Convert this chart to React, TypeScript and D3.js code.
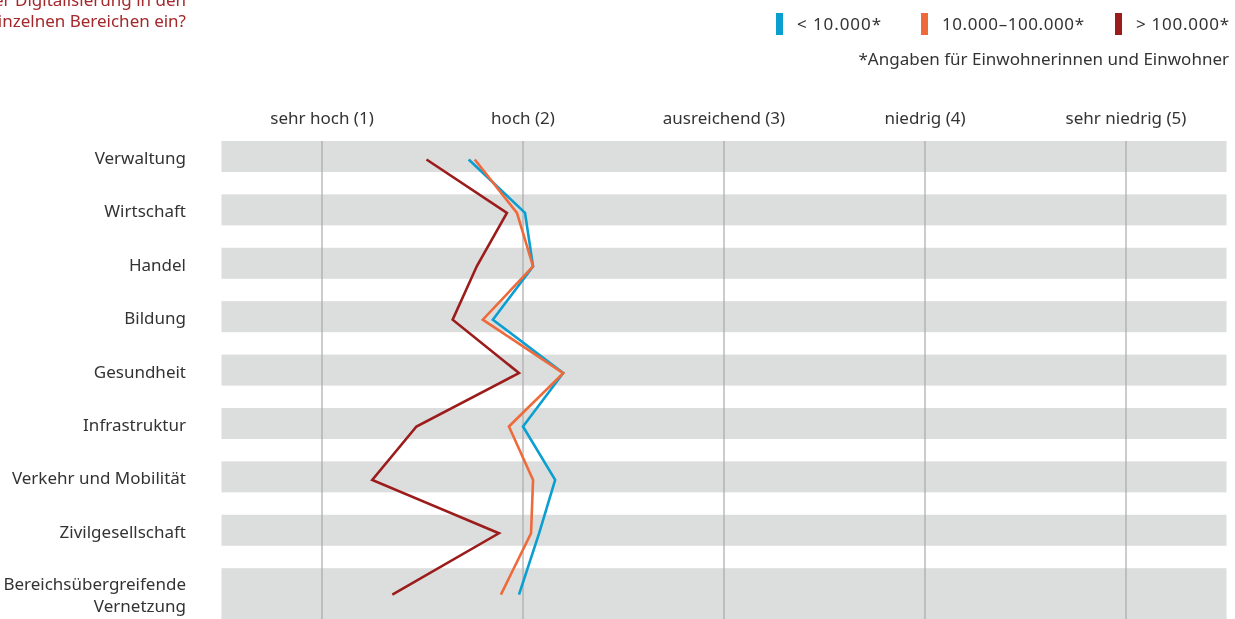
import * as d3 from 'd3';
import React from 'react';

// categories (top to bottom)
const categories = [
  'Verwaltung',
  'Wirtschaft',
  'Handel',
  'Bildung',
  'Gesundheit',
  'Infrastruktur',
  'Verkehr und Mobilität',
  'Zivilgesellschaft',
  'Bereichsübergreifende Vernetzung',
];

// rating scale labels
const ratingLabels = ['sehr hoch (1)', 'hoch (2)', 'ausreichend (3)', 'niedrig (4)', 'sehr niedrig (5)'];

// mean ratings per municipality size
const small = [1.73, 2.01, 2.05, 1.85, 2.2, 2.0, 2.16, 2.08, 1.98];
const medium = [1.76, 1.97, 2.05, 1.8, 2.2, 1.93, 2.05, 2.04, 1.89];
const large = [1.52, 1.92, 1.77, 1.65, 1.98, 1.47, 1.25, 1.88, 1.35];

const seriesNames = ['< 10.000*', '10.000–100.000*', '> 100.000*'];
const seriesColors = ['#0a9fd0', '#ee6a3b', '#9c1c1c'];
const seriesValues = [small, medium, large];

const W = 1235;
const H = 619;
const font = '"Noto Sans", "Open Sans", sans-serif';
const fs = 17;

export default function App() {
  // set the ranges
  const step = 53.4;
  const inner = 0.42;
  const x = d3.scaleLinear().domain([0.5, 5.5]).range([221.5, 1226.5]);
  const y = d3
    .scaleBand<string>()
    .domain(categories)
    .range([141, 141 + step * (categories.length - inner)])
    .paddingInner(inner)
    .paddingOuter(0);

  const bw = y.bandwidth();
  const last = categories.length - 1;
  const bandH = (i: number) => (i === last ? H - (y(categories[i]) as number) + 2 : bw);
  const pointY = (i: number) => (y(categories[i]) as number) + bandH(i) / 2 + (i === last ? 0 : 3);

  const line = d3
    .line<number>()
    .x(d => x(d))
    .y((d, i) => pointY(i));

  const legendX = [776, 921, 1115];
  const legendW = [84, 142, 93];

  return (
    <svg
      width={W}
      height={H}
      style={{ position: 'fixed', left: 0, top: 0, fontFamily: font }}
    >
      {/* title, cut off at the left edge */}
      <g fill="#a3282b" fontSize={fs} textAnchor="end">
        <text x={186} y={6}>Wie schätzen Sie den Stand der Digitalisierung in den</text>
        <text x={186} y={27}>einzelnen Bereichen ein?</text>
      </g>

      {/* legend */}
      <g fontSize={fs} fill="#333">
        {seriesNames.map((name, i) => (
          <g key={name}>
            <rect x={legendX[i]} y={13} width={7} height={22} fill={seriesColors[i]} />
            <text x={legendX[i] + 21} y={30} textLength={legendW[i]} lengthAdjust="spacing">
              {name}
            </text>
          </g>
        ))}
        <text x={1229} y={65} textAnchor="end">
          *Angaben für Einwohnerinnen und Einwohner
        </text>
      </g>

      {/* background bands */}
      {categories.map((c, i) => (
        <rect key={c} x={x(0.5)} y={y(c)} width={x(5.5) - x(0.5)} height={bandH(i)} fill="#dcdddd" />
      ))}

      {/* vertical grid lines */}
      {ratingLabels.map((l, i) => (
        <line key={l} x1={x(i + 1)} x2={x(i + 1)} y1={141} y2={H} stroke="#a9a9a9" strokeWidth={1.2} />
      ))}

      {/* top axis labels */}
      {ratingLabels.map((l, i) => (
        <text key={l} x={x(i + 1)} y={124} textAnchor="middle" fontSize={fs} fill="#333">
          {l}
        </text>
      ))}

      {/* category labels */}
      {categories.map((c, i) => {
        const cy = (y(c) as number) + bandH(i) / 2;
        if (i === last) {
          const parts = c.split(' ');
          return (
            <text key={c} x={186} textAnchor="end" fontSize={fs} fill="#333">
              <tspan x={186} y={cy - 11} dominantBaseline="central">{parts[0]}</tspan>
              <tspan x={186} y={cy + 11} dominantBaseline="central">{parts[1]}</tspan>
            </text>
          );
        }
        return (
          <text key={c} x={186} y={cy + 1} textAnchor="end" dominantBaseline="central" fontSize={fs} fill="#333">
            {c}
          </text>
        );
      })}

      {/* lines */}
      {seriesValues.map((vals, i) => (
        <path
          key={seriesNames[i]}
          d={line(vals) as string}
          fill="none"
          stroke={seriesColors[i]}
          strokeWidth={2.6}
          strokeLinejoin="miter"
        />
      ))}
    </svg>
  );
}
